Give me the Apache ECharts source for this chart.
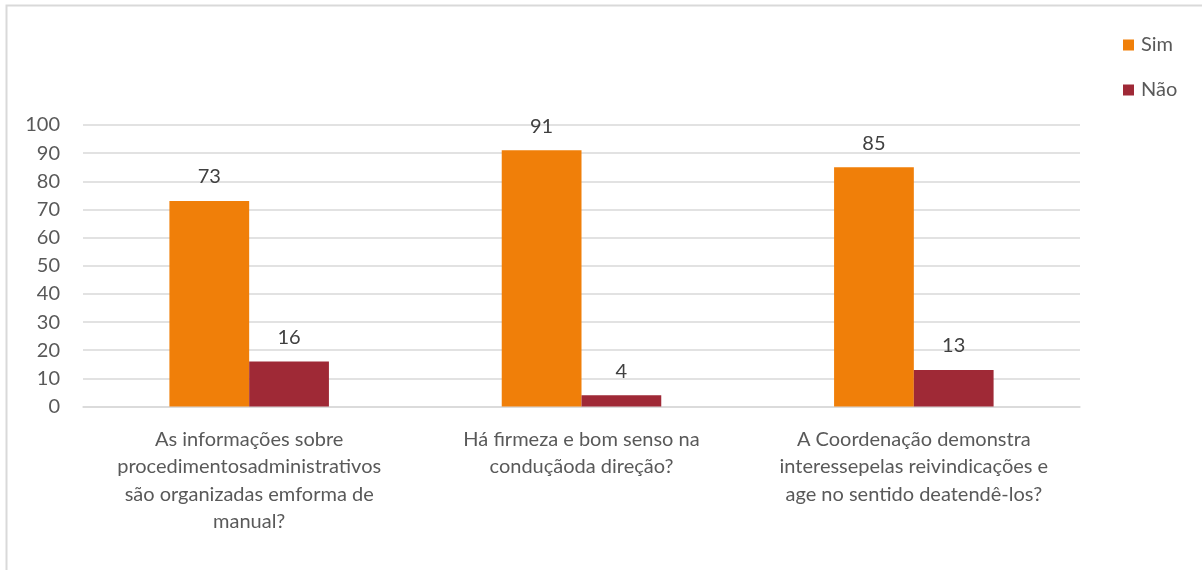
<!DOCTYPE html>
<html>
<head>
<meta charset="utf-8">
<script src="https://cdn.jsdelivr.net/npm/echarts@6/dist/echarts.min.js"></script>
<style>
html,body{margin:0;padding:0;background:#fff;}
#c{width:1202px;height:570px;}
</style>
</head>
<body>
<div id="c"></div>
<script>
const categories = [
  "As informações sobre\nprocedimentosadministrativos\nsão organizadas emforma de\nmanual?",
  "Há firmeza e bom senso na\nconduçãoda direção?",
  "A Coordenação demonstra\ninteressepelas reivindicações e\nage no sentido deatendê-los?"
];
const seriesNames = ["Sim", "Não"];
const simValues = [73, 91, 85];
const naoValues = [16, 4, 13];

const FONT = "Lato";
const chart = echarts.init(document.getElementById('c'), null, {renderer: 'canvas'});
chart.setOption({
  animation: false,
  backgroundColor: '#fff',
  color: ['#F07F09', '#9F2936'],
  graphic: [{
    type: 'rect',
    shape: {x: 6.5, y: 5.5, width: 1300, height: 700},
    style: {fill: 'none', stroke: '#d9d9d9', lineWidth: 2}
  }],
  legend: {
    orient: 'vertical',
    left: 1118,
    top: 30,
    itemWidth: 11,
    itemHeight: 11,
    itemGap: 25,
    icon: 'rect',
    textStyle: {fontFamily: FONT, fontSize: 20, color: '#595959', padding: [0, 0, 0, 2]},
    data: seriesNames
  },
  grid: {left: 83, right: 122, top: 125, bottom: 163.5, containLabel: false},
  xAxis: {
    type: 'category',
    data: categories,
    axisLine: {lineStyle: {color: '#d9d9d9', width: 1.5}},
    axisTick: {show: false},
    axisLabel: {
      fontFamily: FONT, fontSize: 20, color: '#595959',
      lineHeight: 27.5, margin: 19, interval: 0, align: 'center'
    }
  },
  yAxis: {
    type: 'value',
    min: 0, max: 100, interval: 10,
    axisLine: {show: false},
    axisTick: {show: false},
    splitLine: {lineStyle: {color: '#d9d9d9', width: 1.5}},
    axisLabel: {fontFamily: FONT, fontSize: 20, color: '#595959', margin: 23}
  },
  series: [
    {
      name: seriesNames[0], type: 'bar', data: simValues,
      barWidth: '24%', barGap: '0%', barCategoryGap: '52%',
      label: {show: true, position: 'top', distance: 14, fontFamily: FONT, fontSize: 20, color: '#404040'}
    },
    {
      name: seriesNames[1], type: 'bar', data: naoValues,
      barWidth: '24%', barGap: '0%',
      label: {show: true, position: 'top', distance: 14, fontFamily: FONT, fontSize: 20, color: '#404040'}
    }
  ]
});
</script>
</body>
</html>
